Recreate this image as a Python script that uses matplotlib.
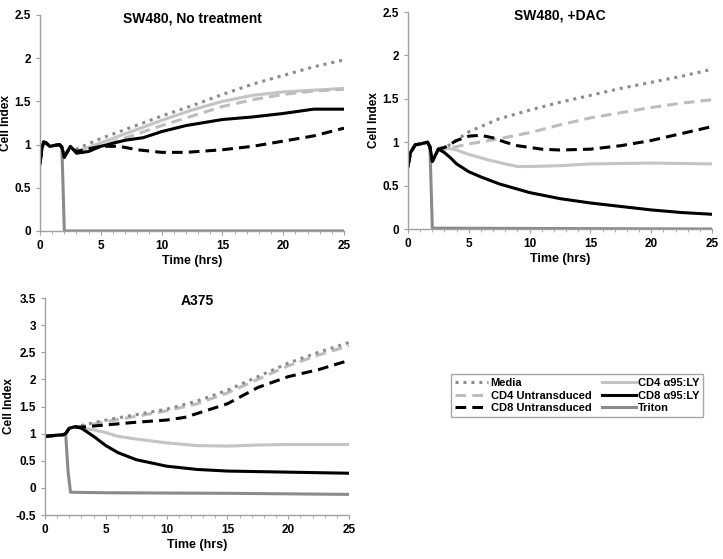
import numpy as np
import matplotlib
matplotlib.use("Agg")
import matplotlib.pyplot as plt
from matplotlib.ticker import MultipleLocator

plt.rcParams['font.family'] = ['Liberation Sans', 'DejaVu Sans']
plt.rcParams['font.weight'] = 'bold'

# ── DATA ─────────────────────────────────────────────────────────────────────
# SW480, No treatment
nt_pre_t = [0, 0.15, 0.3, 0.5, 0.8, 1.2, 1.6, 1.8]
nt_pre_y = [0.78, 0.95, 1.03, 1.02, 0.98, 0.99, 1.0, 0.97]

nt_media_t = [2.0, 2.5, 3, 5, 7.5, 10, 12.5, 15, 17.5, 20, 22.5, 25]
nt_media_y = [0.9, 0.97, 0.95, 1.07, 1.2, 1.33, 1.45, 1.58, 1.7, 1.8, 1.9, 1.98]
nt_cd4u_t = [2.0, 2.5, 3, 5, 7.5, 10, 12.5, 15, 17.5, 20, 22.5, 25]
nt_cd4u_y = [0.88, 0.97, 0.92, 0.98, 1.1, 1.22, 1.33, 1.44, 1.52, 1.58, 1.62, 1.64]
nt_cd8u_t = [2.0, 2.5, 3, 5, 6.5, 8, 10, 12, 15, 17.5, 20, 22.5, 25]
nt_cd8u_y = [0.86, 0.97, 0.92, 0.98, 0.98, 0.94, 0.91, 0.91, 0.94, 0.98, 1.04, 1.1, 1.19]
nt_cd4a_t = [2.0, 2.5, 3, 5, 7.5, 10, 12.5, 15, 17.5, 20, 22.5, 25]
nt_cd4a_y = [0.88, 0.97, 0.92, 1.02, 1.15, 1.28, 1.4, 1.5, 1.57, 1.61, 1.63, 1.65]
nt_cd8a_t = [2.0, 2.5, 3, 4, 5, 7, 8.5, 10, 12, 15, 17.5, 20, 22.5, 25]
nt_cd8a_y = [0.85, 0.98, 0.9, 0.92, 0.98, 1.05, 1.08, 1.15, 1.22, 1.29, 1.32, 1.36, 1.41, 1.41]
nt_trit_t = [1.9, 2.0, 25]
nt_trit_y = [0.5, 0.0, 0.0]

# SW480, +DAC
dac_pre_t = [0, 0.2, 0.6, 1.0, 1.6, 1.8]
dac_pre_y = [0.72, 0.88, 0.97, 0.98, 1.0, 0.95]

dac_media_t = [2.0, 2.5, 3, 5, 7.5, 10, 12.5, 15, 17.5, 20, 22.5, 25]
dac_media_y = [0.78, 0.92, 0.93, 1.12, 1.27, 1.37, 1.46, 1.54, 1.62, 1.69, 1.76, 1.84]
dac_cd4u_t = [2.0, 2.5, 3, 5, 7.5, 10, 12.5, 15, 17.5, 20, 22.5, 25]
dac_cd4u_y = [0.78, 0.92, 0.92, 0.98, 1.04, 1.11, 1.2, 1.28, 1.34, 1.4, 1.45, 1.49]
dac_cd8u_t = [2.0, 2.5, 3, 4, 5, 6, 7, 8, 9, 10, 11, 12.5, 15, 17.5, 20, 22.5, 25]
dac_cd8u_y = [0.78, 0.92, 0.94, 1.02, 1.07, 1.08, 1.05, 1.0, 0.96, 0.94, 0.92, 0.91, 0.92, 0.96, 1.02, 1.1, 1.18]
dac_cd4a_t = [2.0, 2.5, 3, 4, 5, 6.5, 8, 9, 10, 12.5, 15, 20, 25]
dac_cd4a_y = [0.78, 0.93, 0.94, 0.91, 0.86, 0.8, 0.75, 0.72, 0.72, 0.73, 0.75, 0.76, 0.75]
dac_cd8a_t = [2.0, 2.5, 3, 3.5, 4, 5, 6, 7.5, 10, 12.5, 15, 17.5, 20, 22.5, 25]
dac_cd8a_y = [0.78, 0.92, 0.88, 0.82, 0.75, 0.66, 0.6, 0.52, 0.42, 0.35, 0.3, 0.26, 0.22, 0.19, 0.17]
dac_trit_t = [1.9, 2.0, 25]
dac_trit_y = [0.5, 0.01, 0.0]

# A375
a_pre_t = [0, 0.5, 1.0, 1.5, 1.7]
a_pre_y = [0.95, 0.96, 0.97, 0.98, 1.0]

a_media_t = [2.0, 2.5, 3, 5, 7.5, 10, 12.5, 15, 17.5, 20, 22.5, 25]
a_media_y = [1.1, 1.12, 1.15, 1.25, 1.35, 1.45, 1.6, 1.8, 2.05, 2.3, 2.5, 2.68]
a_cd4u_t = [2.0, 2.5, 3, 5, 7.5, 10, 12.5, 15, 17.5, 20, 22.5, 25]
a_cd4u_y = [1.1, 1.12, 1.13, 1.22, 1.32, 1.42, 1.55, 1.75, 2.0, 2.25, 2.45, 2.62]
a_cd8u_t = [2.0, 2.5, 3, 5, 7.5, 10, 11.5, 12.5, 15, 17.5, 20, 22.5, 25]
a_cd8u_y = [1.1, 1.12, 1.12, 1.16, 1.21, 1.25, 1.3, 1.37, 1.55, 1.85, 2.05, 2.18, 2.35]
a_cd4a_t = [2.0, 2.5, 3, 4, 5, 6, 7.5, 10, 12.5, 15, 17.5, 20, 25]
a_cd4a_y = [1.1, 1.12, 1.1, 1.07, 1.02, 0.95, 0.9, 0.83, 0.78, 0.77, 0.79, 0.8, 0.8]
a_cd8a_t = [2.0, 2.5, 3, 4, 5, 6, 7.5, 10, 12.5, 15, 20, 25]
a_cd8a_y = [1.1, 1.13, 1.1, 0.95, 0.78, 0.65, 0.52, 0.4, 0.34, 0.31, 0.29, 0.27]
a_trit_t = [1.9, 2.1, 5, 15, 25]
a_trit_y = [0.3, -0.08, -0.09, -0.1, -0.12]

labels = ["Media", "CD4 Untransduced", "CD8 Untransduced",
          "CD4 \u03b195:LY", "CD8 \u03b195:LY", "Triton"]
styles = [
    dict(color="#8c8c8c", linestyle=(0, (1, 1.6)), lw=2.2),
    dict(color="#bdbdbd", linestyle=(0, (3.5, 2)), lw=2.2),
    dict(color="black", linestyle=(0, (3.5, 2)), lw=2.2),
    dict(color="#c4c4c4", linestyle="-", lw=2.2),
    dict(color="black", linestyle="-", lw=2.2),
    dict(color="#8a8a8a", linestyle="-", lw=2.2),
]

panels = [
    dict(title="SW480, No treatment", pos=[0.0553, 0.5868, 0.4205, 0.3864],
         ylim=(0, 2.5), ylab_x=-0.092, pre=(nt_pre_t, nt_pre_y),
         series=[(nt_media_t, nt_media_y), (nt_cd4u_t, nt_cd4u_y), (nt_cd8u_t, nt_cd8u_y),
                 (nt_cd4a_t, nt_cd4a_y), (nt_cd8a_t, nt_cd8a_y), (nt_trit_t, nt_trit_y)]),
    dict(title="SW480, +DAC", pos=[0.5643, 0.5903, 0.4205, 0.3882],
         ylim=(0, 2.5), ylab_x=-0.092, pre=(dac_pre_t, dac_pre_y),
         series=[(dac_media_t, dac_media_y), (dac_cd4u_t, dac_cd4u_y), (dac_cd8u_t, dac_cd8u_y),
                 (dac_cd4a_t, dac_cd4a_y), (dac_cd8a_t, dac_cd8a_y), (dac_trit_t, dac_trit_y)]),
    dict(title="A375", pos=[0.0622, 0.0787, 0.4205, 0.3882],
         ylim=(-0.5, 3.5), ylab_x=-0.10, pre=(a_pre_t, a_pre_y),
         series=[(a_media_t, a_media_y), (a_cd4u_t, a_cd4u_y), (a_cd8u_t, a_cd8u_y),
                 (a_cd4a_t, a_cd4a_y), (a_cd8a_t, a_cd8a_y), (a_trit_t, a_trit_y)]),
]

fig = plt.figure(figsize=(7.23, 5.59), dpi=100)
handles = None
for p in panels:
    ax = fig.add_axes(p["pos"])
    pt, py = p["pre"]
    hs = []
    # draw order: triton first so it sits underneath
    for i in [5, 3, 1, 0, 2, 4]:
        t, y = p["series"][i]
        h, = ax.plot(list(pt) + list(t), list(py) + list(y), **styles[i], label=labels[i])
        hs.append((i, h))
    if handles is None:
        handles = [h for _, h in sorted(hs, key=lambda z: z[0])]
    ax.set_xlim(0, 25)
    ax.set_ylim(*p["ylim"])
    ax.xaxis.set_major_locator(MultipleLocator(5))
    ax.xaxis.set_minor_locator(MultipleLocator(1))
    ax.yaxis.set_major_locator(MultipleLocator(0.5))
    ax.set_yticks(ax.get_yticks())
    ax.set_yticklabels([f"{v:g}" for v in ax.get_yticks()])
    ax.set_ylim(*p["ylim"])
    for s in ["top", "right"]:
        ax.spines[s].set_visible(False)
    for s in ["left", "bottom"]:
        ax.spines[s].set_color("#a0a0a0")
        ax.spines[s].set_linewidth(1.0)
    ax.tick_params(which="both", colors="#a0a0a0", labelcolor="black", labelsize=8.5)
    ax.tick_params(which="major", length=3)
    ax.tick_params(which="minor", length=2)
    ax.set_xlabel("Time (hrs)", fontsize=9, fontweight="bold", labelpad=2)
    ax.set_ylabel("Cell Index", fontsize=8.5, fontweight="bold")
    ax.yaxis.set_label_coords(p["ylab_x"], 0.5)
    ax.text(0.5, 0.985, p["title"], transform=ax.transAxes, ha="center", va="center",
            fontsize=10, fontweight="bold")

fig.legend(handles, [labels[i] for i in range(6)], ncol=2, loc="center",
           bbox_to_anchor=(0.7985, 0.2924), fontsize=8, frameon=True, fancybox=False,
           edgecolor="#909090", handlelength=3.0, handletextpad=0.2,
           columnspacing=1.0, labelspacing=0.25, borderpad=0.35)

fig.savefig("out.png", dpi=100)
